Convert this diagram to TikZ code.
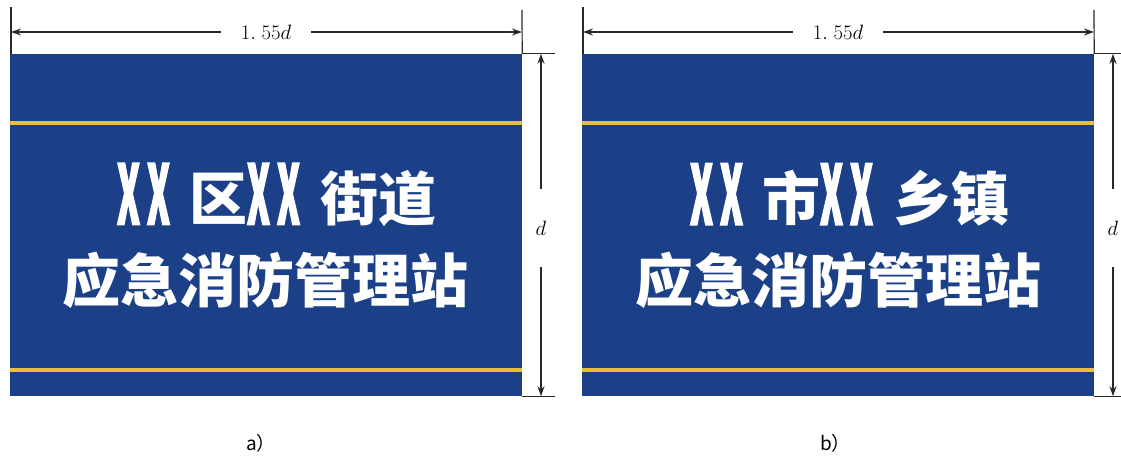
\documentclass[tikz,border=0pt]{standalone}
\usepackage{fontspec}
\usepackage{graphicx}
\usepackage{tikz}
\usetikzlibrary{positioning}
\usetikzlibrary{arrows.meta}
\newfontfamily\cjk{Noto Sans CJK SC}
\newfontfamily\xfont[FakeBold=3]{Noto Sans CJK SC}
\definecolor{signblue}{RGB}{28,64,136}
\definecolor{signgold}{RGB}{232,190,60}
\definecolor{dimgrey}{RGB}{40,40,40}
\newcommand{\sx}{\hbox to 30pt{\hss\raisebox{-4pt}{\scalebox{0.6}[1.4]{\xfont\bfseries X}}\hss}}
\newcommand{\signtop}[2]{\sx\sx\hspace{16pt}#1\hspace{-4pt}\sx\sx\hspace{17pt}#2}
\tikzset{
sign/.style={
  rectangle,
  inner sep=0pt,
  minimum width=512pt,
  minimum height=342pt,
  fill=signblue
  },
band/.style={draw=signgold,line width=4pt},
word/.style={
  inner sep=0pt,
  text=white,
  font=\cjk\bfseries\fontsize{58pt}{60pt}\selectfont
  },
dim/.style={draw=dimgrey,line width=1.2pt},
dimlbl/.style={inner xsep=20pt,inner ysep=2pt,font=\fontsize{22pt}{24pt}\selectfont},
dimlblv/.style={inner xsep=2pt,inner ysep=32pt,font=\fontsize{22pt}{24pt}\selectfont},
sublbl/.style={anchor=west,inner sep=0pt,font=\cjk\fontsize{19pt}{21pt}\selectfont}
}

\begin{document}
\begin{tikzpicture}[x=1pt,y=-1pt,>={Stealth[length=10pt,width=7pt]}]
        \useasboundingbox (0,0) rectangle (1121,455);
        % a)
        \node[sign] at (266,225) (sa) {};
        \draw[band] (sa.west |- 0,123) -- (sa.east |- 0,123);
        \draw[band] (sa.west |- 0,370) -- (sa.east |- 0,370);
        \node[word] at (275,195) (la1) {\signtop{区}{街道}};
        \node[word] at (265,280) (la2) {应急消防管理站};
        \coordinate (ula) at (11,7);
        \coordinate (ura) at (522,10);
        \node[dimlbl] at (266,32) (wa) {$1.\;55d$};
        \node[dimlblv] at (541,228) (ha) {$d$};
        \draw[dim] (sa.north west -| ula) -- (ula);
        \draw[dim] (sa.north east) -- (ura);
        \draw[dim] (sa.north east) -- ++(33,0);
        \draw[dim] (sa.south east) -- ++(33,0);
        \path[->]
        (wa) edge [dim] (wa -| ula)
        (wa) edge [dim] (wa -| ura)
        (ha) edge [dim] (ha |- sa.north)
        (ha) edge [dim] (ha |- sa.south)
        ;
        \node[sublbl] at (246,443) (ca) {a）};
        % b)
        \node[sign] at (838,225) (sb) {};
        \draw[band] (sb.west |- 0,123) -- (sb.east |- 0,123);
        \draw[band] (sb.west |- 0,370) -- (sb.east |- 0,370);
        \node[word] at (848,195) (lb1) {\signtop{市}{乡镇}};
        \node[word] at (838,280) (lb2) {应急消防管理站};
        \coordinate (ulb) at (583,7);
        \coordinate (urb) at (1094,10);
        \node[dimlbl] at (838,32) (wb) {$1.\;55d$};
        \node[dimlblv] at (1113,228) (hb) {$d$};
        \draw[dim] (sb.north west -| ulb) -- (ulb);
        \draw[dim] (sb.north east) -- (urb);
        \draw[dim] (sb.north east) -- ++(33,0);
        \draw[dim] (sb.south east) -- ++(33,0);
        \path[->]
        (wb) edge [dim] (wb -| ulb)
        (wb) edge [dim] (wb -| urb)
        (hb) edge [dim] (hb |- sb.north)
        (hb) edge [dim] (hb |- sb.south)
        ;
        \node[sublbl] at (820,443) (cb) {b）};
\end{tikzpicture}
\end{document}
